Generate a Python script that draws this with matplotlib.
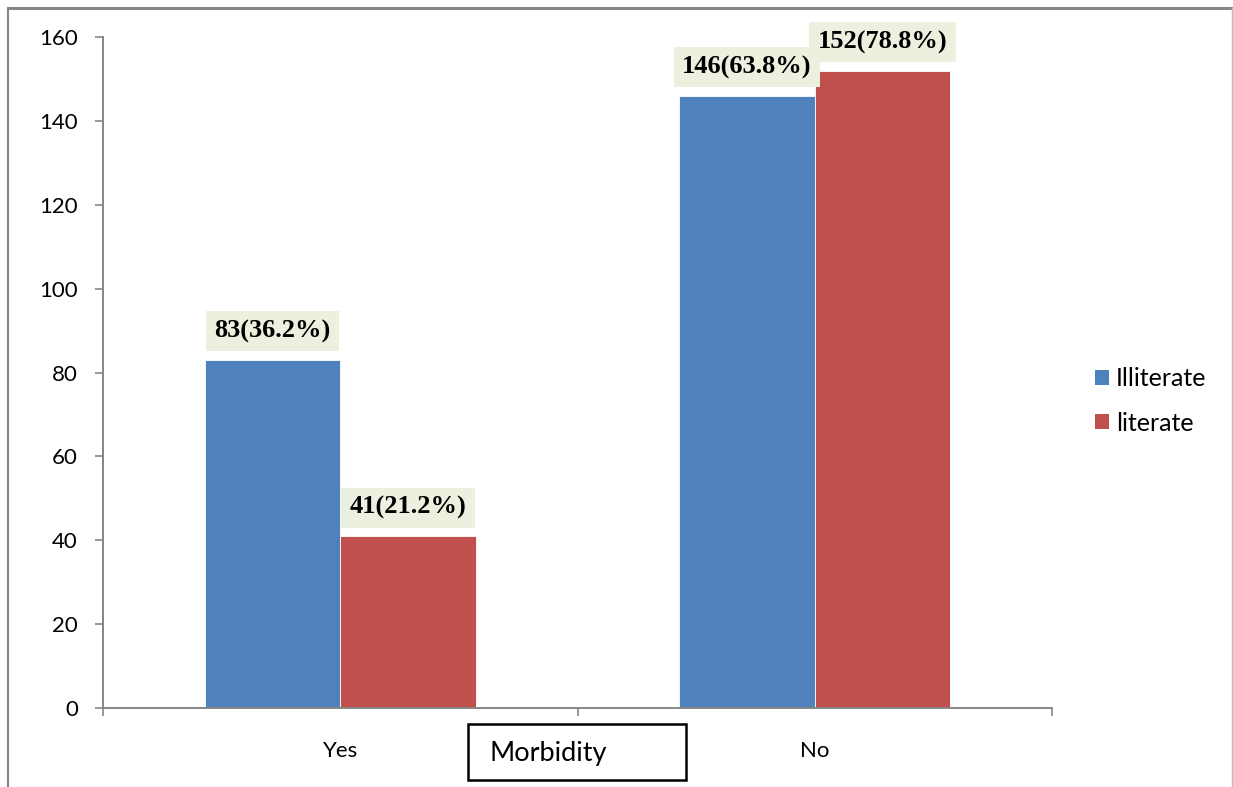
import matplotlib
matplotlib.use("Agg")
import matplotlib.pyplot as plt
from matplotlib.patches import Patch, Rectangle
from matplotlib.lines import Line2D
import numpy as np

categories = ["Yes", "No"]
series_names = ["Illiterate", "literate"]
illiterate = [83, 146]
literate = [41, 152]
illiterate_pct = ["36.2%", "63.8%"]
literate_pct = ["21.2%", "78.8%"]
yticks = [0, 20, 40, 60, 80, 100, 120, 140, 160]
axis_title = "Morbidity"

blue = "#4F81BD"
red = "#C0504D"
label_bg = "#EBF1DE"
axis_gray = "#868686"
sans = ["Lato", "DejaVu Sans"]
serif = ["Liberation Serif", "DejaVu Serif"]

fig = plt.figure(figsize=(12.33, 7.87), dpi=100)
ax = fig.add_axes([103/1233, 1-708/787, (1052-103)/1233, (708-37)/787])

x = np.arange(len(categories))
w = 0.286
ax.bar(x - w/2, illiterate, width=w, color=blue, edgecolor="white", linewidth=0.6, zorder=2)
ax.bar(x + w/2, literate, width=w, color=red, edgecolor="white", linewidth=0.6, zorder=2)

ax.set_xlim(-0.5, 1.5)
ax.set_ylim(0, 160)
ax.set_yticks(yticks)
ax.set_yticklabels([str(t) for t in yticks], fontfamily=sans, fontsize=16)
ax.set_xticks(x)
ax.set_xticklabels(categories, fontfamily=sans, fontsize=16)
ax.set_xticks([-0.5, 0.5, 1.5], minor=True)
ax.tick_params(axis="x", which="major", length=0, pad=24)
ax.tick_params(axis="x", which="minor", length=6, color=axis_gray, width=1.2, direction="out")
ax.tick_params(axis="y", length=6, color=axis_gray, width=1.2, pad=12)
for s in ["top", "right"]:
    ax.spines[s].set_visible(False)
for s in ["left", "bottom"]:
    ax.spines[s].set_color(axis_gray)
    ax.spines[s].set_linewidth(1.4)

def add_labels(xs, vals, pcts, z):
    for xi, v, p in zip(xs, vals, pcts):
        ax.annotate(f"{v}({p})", xy=(xi, v), xytext=(0, 20.5), textcoords="offset points",
                    ha="center", va="center", fontsize=19, fontweight="bold",
                    fontfamily=serif, color="black", zorder=z,
                    bbox=dict(boxstyle="square,pad=0.32", facecolor=label_bg, edgecolor="none"))

add_labels(x + w/2, literate, literate_pct, 5)
add_labels(x - w/2, illiterate, illiterate_pct, 6)

handles = [Patch(facecolor=blue, edgecolor="none"), Patch(facecolor=red, edgecolor="none")]
fig.legend(handles, series_names, loc="center left", bbox_to_anchor=(1095/1233, 1-401/787),
           frameon=False, prop={"family": sans, "size": 18}, borderpad=0, borderaxespad=0,
           handlelength=0.55, handleheight=0.55, handletextpad=0.3, labelspacing=0.85)

# axis title box
fig.patches.append(Rectangle((468/1233, 1-780/787), (686-468)/1233, (780-724)/787,
                             transform=fig.transFigure, facecolor="white",
                             edgecolor="black", linewidth=1.8))
fig.text(490/1233, 1-754/787, axis_title, ha="left", va="center",
         fontfamily=sans, fontsize=19.5)

# outer chart frame
fig.add_artist(Line2D([8/1233, 8/1233], [0, 1-8/787], transform=fig.transFigure, color=axis_gray, lw=1.5))
fig.add_artist(Line2D([8/1233, 1232/1233], [1-8/787, 1-8/787], transform=fig.transFigure, color=axis_gray, lw=2.2))
fig.add_artist(Line2D([1231.5/1233, 1231.5/1233], [0, 1-8/787], transform=fig.transFigure, color="#BBBBBB", lw=1.0))

fig.savefig("out.png", dpi=100)
